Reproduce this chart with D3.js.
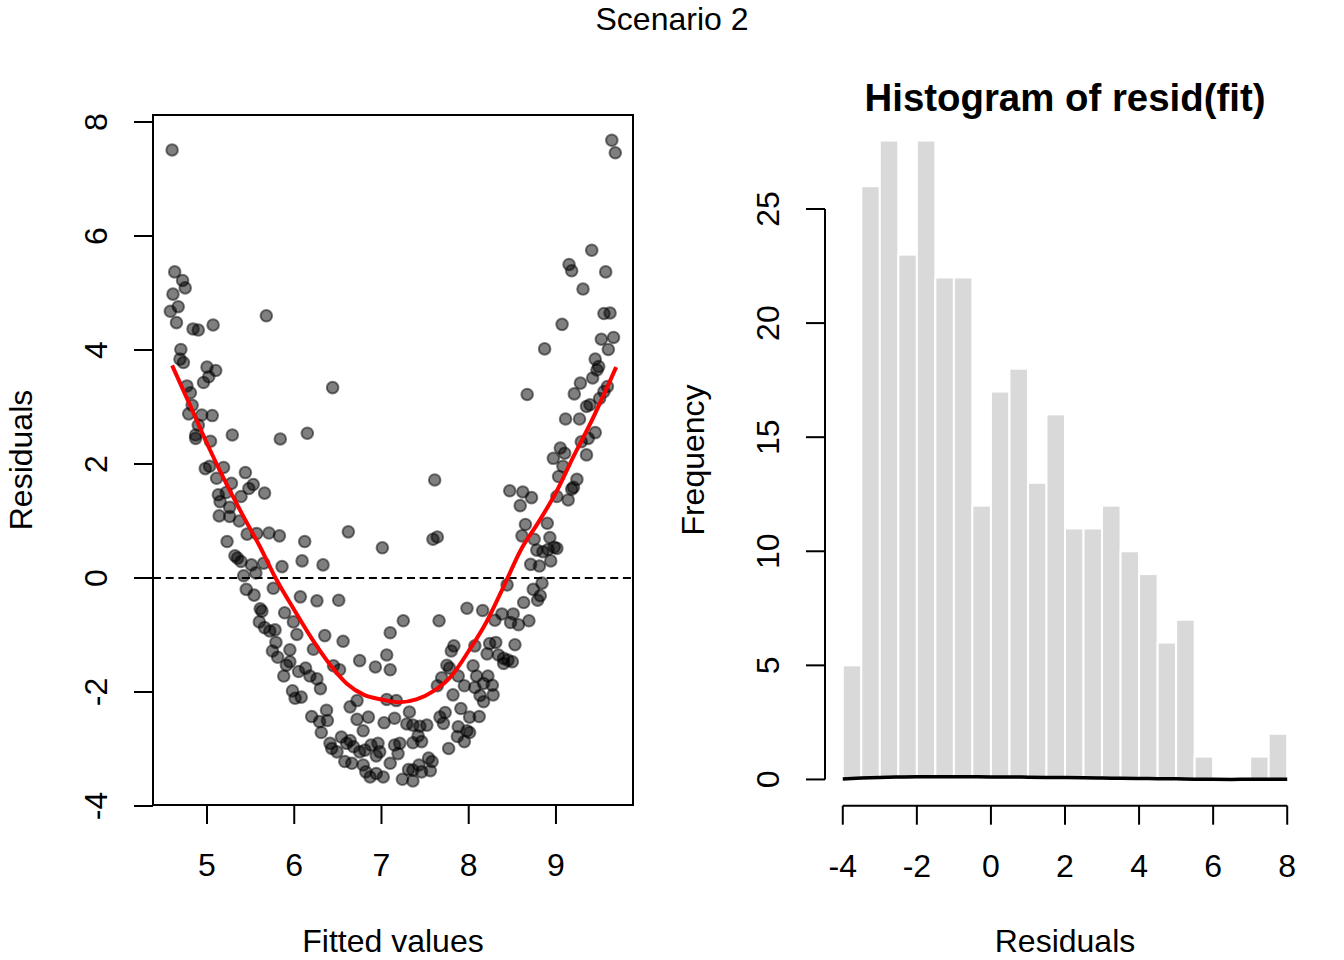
<!DOCTYPE html>
<html>
<head>
<meta charset="utf-8">
<script src="https://cdn.jsdelivr.net/npm/d3@7"></script>
<style>
  body { margin: 0; background: #fff; }
  svg { display: block; font-family: "Liberation Sans", Arial, sans-serif; }
</style>
</head>
<body>
<svg id="chart" width="1344" height="960"></svg>
<script>
// scatter: fitted values and residuals, paired by index
const fittedVals = [
  4.60,4.63,4.72,4.75,4.61,4.67,4.58,4.65,4.84,4.90,5.07,5.68,4.70,4.69,4.73,5.00,5.10,5.02,4.96,6.44,
  4.77,4.81,4.83,4.79,4.94,5.06,4.90,4.87,4.87,5.29,5.84,6.15,5.04,
  4.98,5.03,5.19,5.44,5.11,5.28,5.53,5.48,5.66,5.22,5.13,5.39,5.15,5.26,5.14,5.26,5.37,5.46,5.57,5.71,
  5.83,6.62,7.01,6.12,5.23,5.32,5.35,5.39,5.51,5.65,5.86,6.09,6.33,5.56,5.42,5.45,5.54,5.76,6.07,6.26,
  6.51,5.61,5.63,5.89,5.99,5.60,5.66,5.72,5.78,6.03,6.35,6.56,5.79,5.75,5.95,5.81,6.22,5.95,5.91,6.05,
  6.13,6.18,6.26,5.88,6.30,6.45,6.52,6.75,6.93,7.10,7.06,7.10,5.98,6.01,6.08,6.20,6.37,6.29,6.38,6.31,
  6.64,6.72,6.72,6.85,6.79,7.03,6.41,6.43,6.49,6.54,6.60,6.64,6.68,6.58,6.66,6.75,6.81,6.88,6.96,6.98,
  6.94,6.79,6.82,6.87,6.94,7.02,7.10,
  7.61,7.59,7.64,8.47,8.62,8.72,8.59,8.65,8.90,8.61,8.75,8.93,8.78,8.85,8.91,8.98,9.01,8.94,8.71,8.81,
  8.44,8.84,8.74,8.82,8.79,8.63,7.98,8.16,8.38,8.30,8.51,8.69,8.48,8.57,7.25,7.66,7.83,7.80,8.07,8.24,
  8.31,8.21,8.34,8.40,8.45,8.50,8.53,8.40,7.75,7.78,7.69,7.88,8.05,8.09,8.22,8.27,8.17,7.95,8.07,7.64,
  7.82,8.13,8.28,8.17,7.06,7.17,7.32,7.73,7.67,7.71,7.91,8.01,8.12,7.88,7.98,8.01,7.87,7.95,7.77,7.15,
  7.29,7.36,7.44,7.52,7.42,7.46,7.36,7.21,7.15,7.19,7.31,7.36,7.43,7.54,7.58,7.56,7.46,7.24,7.36,
  9.64,9.68,9.41,9.15,9.18,9.57,9.31,9.55,9.62,9.07,9.52,9.66,9.60,8.87,9.45,9.49,9.47,9.42,9.28,9.21,
  8.67,9.59,9.55,9.50,9.35,9.39,9.11,9.27,9.45,9.37,9.29,9.05,9.10,8.97,9.35,9.08,9.03,9.24,9.20,9.18,
  9.14,9.01
];
const residVals = [
  7.51,5.37,5.22,5.09,4.98,4.76,4.68,4.48,4.37,4.35,4.44,4.60,4.01,3.84,3.78,3.70,3.64,3.53,3.43,3.34,
  3.37,3.25,3.03,2.88,2.86,2.85,2.68,2.51,2.45,2.51,2.44,2.54,2.40,
  1.92,1.96,1.94,1.85,1.75,1.66,1.64,1.57,1.49,1.50,1.46,1.43,1.34,1.24,1.09,1.08,1.00,0.77,0.78,0.79,
  0.74,0.81,0.53,0.64,0.64,0.39,0.35,0.29,0.23,0.26,0.20,0.30,0.23,0.09,0.04,-0.20,-0.30,-0.18,-0.33,-0.40,
  -0.39,-0.54,-0.58,-0.61,-0.77,-0.77,-0.87,-0.93,-0.91,-0.99,-1.01,-1.11,-1.13,-1.28,-1.26,-1.39,-1.25,-1.47,-1.53,-1.64,
  -1.58,-1.72,-1.77,-1.72,-1.94,-1.54,-1.61,-1.45,-1.56,-0.96,-1.35,-1.61,-1.98,-2.11,-2.09,-2.43,-2.32,-2.52,-2.50,-2.71,
  -2.26,-2.15,-2.48,-2.44,-2.68,-2.54,-2.90,-2.99,-3.05,-2.79,-2.90,-2.85,-2.96,-3.22,-3.25,-3.05,-3.02,-2.93,-2.90,-3.05,
  -3.12,-3.28,-3.40,-3.49,-3.43,-3.49,-3.25,
  1.72,0.68,0.72,1.53,1.51,1.41,1.27,0.94,0.96,0.74,0.68,0.71,0.49,0.46,0.50,0.54,0.52,0.30,0.24,0.21,
  -0.12,-0.09,-0.20,-0.31,-0.39,-0.43,-0.53,-0.57,-0.63,-0.74,-0.63,-0.75,-0.78,-0.82,-0.75,-0.75,-1.19,-1.28,-1.19,-1.15,
  -1.13,-1.33,-1.35,-1.41,-1.44,-1.47,-1.17,-1.50,-1.53,-1.58,-1.75,-1.72,-1.54,-1.72,-1.72,-1.88,-1.85,-1.89,-1.92,-1.89,
  -2.05,-2.06,-2.05,-2.17,-2.13,-2.15,-2.35,-2.36,-2.44,-2.55,-2.29,-2.44,-2.43,-2.61,-2.68,-2.71,-2.78,-2.87,-2.99,-2.46,
  -2.56,-2.58,-2.60,-2.58,-2.77,-2.87,-2.89,-2.90,-2.93,-3.08,-3.36,-3.37,-3.28,-3.16,-3.22,-3.38,-3.40,-3.53,-3.56,
  7.68,7.46,5.75,5.50,5.39,5.37,5.07,4.64,4.65,4.45,4.19,4.22,4.01,4.02,3.84,3.71,3.65,3.51,3.42,3.23,
  3.22,3.36,3.27,3.15,3.01,3.04,2.79,2.79,2.55,2.45,2.39,2.28,2.19,2.10,2.16,1.96,1.78,1.73,1.59,1.56,
  1.37,1.43
];

// smoother through the residuals (red line)
const smoothX = [4.60,4.80,5.00,5.20,5.40,5.60,5.80,6.00,6.20,6.40,6.60,6.80,7.00,7.20,7.40,7.60,7.80,8.00,8.20,8.40,8.60,8.80,9.00,9.20,9.40,9.69];
const smoothY = [3.73,3.05,2.36,1.72,1.13,0.57,-0.04,-0.56,-1.06,-1.50,-1.85,-2.05,-2.13,-2.18,-2.13,-1.98,-1.72,-1.28,-0.78,-0.15,0.50,0.98,1.50,2.13,2.73,3.70];

// histogram of residuals
const histBreaks = [-4,-3.5,-3,-2.5,-2,-1.5,-1,-0.5,0,0.5,1,1.5,2,2.5,3,3.5,4,4.5,5,5.5,6,6.5,7,7.5,8];
const histCounts = [5,26,28,23,28,22,22,12,17,18,13,16,11,11,12,10,9,6,7,1,0,0,1,2];

// density line drawn on the frequency scale
const densX = [-4,-3.5,-3,-2.5,-2,-1.5,-1,-0.5,0,0.5,1,1.5,2,2.5,3,3.5,4,4.5,5,5.5,6,6.5,7,7.5,8];
const densY = [0.02,0.06,0.09,0.11,0.12,0.12,0.12,0.115,0.11,0.11,0.10,0.09,0.08,0.07,0.06,0.055,0.045,0.035,0.025,0.012,0.004,0.003,0.005,0.006,0.004];

const scatterXTicks = [5,6,7,8,9];
const scatterYTicks = [-4,-2,0,2,4,6,8];
const histXTicks = [-4,-2,0,2,4,6,8];
const histYTicks = [0,5,10,15,20,25];

const fontPx = 32;
const tickLen = 19;
const lineW = 2;

/* R style axis: line spans first to last tick, labels can be turned */
function drawAxis(g, scale, ticks, side, labelOffset) {
    var ax = g.append("g").attr("class", "axis");
    var first = scale(ticks[0]), last = scale(ticks[ticks.length - 1]);
    if (side === "bottom") {
        ax.append("line").attr("x1", first).attr("x2", last).attr("y1", 0).attr("y2", 0);
        ax.selectAll("line.tick").data(ticks).enter().append("line")
            .attr("class", "tick")
            .attr("x1", (d) => scale(d)).attr("x2", (d) => scale(d))
            .attr("y1", 0).attr("y2", tickLen);
        ax.selectAll("text").data(ticks).enter().append("text")
            .attr("x", (d) => scale(d))
            .attr("y", labelOffset)
            .attr("text-anchor", "middle")
            .text((d) => d);
    } else {
        ax.append("line").attr("y1", first).attr("y2", last).attr("x1", 0).attr("x2", 0);
        ax.selectAll("line.tick").data(ticks).enter().append("line")
            .attr("class", "tick")
            .attr("y1", (d) => scale(d)).attr("y2", (d) => scale(d))
            .attr("x1", 0).attr("x2", -tickLen);
        ax.selectAll("text").data(ticks).enter().append("text")
            .attr("transform", (d) => "translate(" + (-labelOffset) + "," + scale(d) + ") rotate(-90)")
            .attr("text-anchor", "middle")
            .text((d) => d);
    }
    ax.selectAll("line").attr("stroke", "#000").attr("stroke-width", lineW);
    ax.selectAll("text").attr("font-size", fontPx).attr("fill", "#000");
    return ax;
}

function drawScatter(svg) {
    var x = d3.scaleLinear().domain([4.381, 9.883]).range([153, 633]);
    var y = d3.scaleLinear().domain([-3.982, 8.123]).range([805, 115]);

    svg.append("clipPath").attr("id", "clipL")
        .append("rect").attr("x", 153).attr("y", 115).attr("width", 480).attr("height", 690);

    var plot = svg.append("g").attr("clip-path", "url(#clipL)");

    var pts = d3.range(fittedVals.length).map((i) => [fittedVals[i], residVals[i]]);
    plot.selectAll("circle").data(pts).enter().append("circle")
        .attr("cx", (d) => x(d[0]))
        .attr("cy", (d) => y(d[1]))
        .attr("r", 5.8)
        .attr("fill", "rgba(0,0,0,0.5)")
        .attr("stroke", "rgba(0,0,0,0.5)")
        .attr("stroke-width", 2);

    plot.append("line")
        .attr("x1", 153).attr("x2", 633)
        .attr("y1", y(0)).attr("y2", y(0))
        .attr("stroke", "#000").attr("stroke-width", 2)
        .attr("stroke-dasharray", "8,4.7");

    var line = d3.line().x((d) => x(d[0])).y((d) => y(d[1])).curve(d3.curveMonotoneX);
    plot.append("path")
        .datum(smoothX.map((v, i) => [v, smoothY[i]]))
        .attr("d", line)
        .attr("fill", "none")
        .attr("stroke", "#FF0000")
        .attr("stroke-width", 4);

    svg.append("rect")
        .attr("x", 153).attr("y", 115).attr("width", 480).attr("height", 690)
        .attr("fill", "none").attr("stroke", "#000").attr("stroke-width", lineW);

    drawAxis(svg.append("g").attr("transform", "translate(0,805)"), x, scatterXTicks, "bottom", 71);
    drawAxis(svg.append("g").attr("transform", "translate(153,0)"), y, scatterYTicks, "left", 45.7);

    svg.append("text")
        .attr("x", 393).attr("y", 952)
        .attr("text-anchor", "middle").attr("font-size", fontPx)
        .text("Fitted values");
    svg.append("text")
        .attr("transform", "translate(31.7,460) rotate(-90)")
        .attr("text-anchor", "middle").attr("font-size", fontPx)
        .text("Residuals");
}

function drawHist(svg) {
    var x = d3.scaleLinear().domain([-4.48, 8.48]).range([825, 1305]);
    var y = d3.scaleLinear().domain([-1.12, 29.12]).range([805, 115]);

    var bins = histCounts.map((c, i) => ({ x0: histBreaks[i], x1: histBreaks[i + 1], n: c }))
        .filter((b) => b.n > 0);

    svg.append("g").selectAll("rect").data(bins).enter().append("rect")
        .attr("x", (d) => x(d.x0))
        .attr("y", (d) => y(d.n))
        .attr("width", (d) => x(d.x1) - x(d.x0))
        .attr("height", (d) => y(0) - y(d.n))
        .attr("fill", "#D9D9D9")
        .attr("stroke", "#FFFFFF")
        .attr("stroke-width", 2);

    var line = d3.line().x((d) => x(d[0])).y((d) => y(d[1])).curve(d3.curveMonotoneX);
    svg.append("path")
        .datum(densX.map((v, i) => [v, densY[i]]))
        .attr("d", line)
        .attr("fill", "none")
        .attr("stroke", "#000")
        .attr("stroke-width", 3.5);

    drawAxis(svg.append("g").attr("transform", "translate(0,805.7)"), x, histXTicks, "bottom", 71);
    drawAxis(svg.append("g").attr("transform", "translate(825,0)"), y, histYTicks, "left", 46.3);

    svg.append("text")
        .attr("x", 1065).attr("y", 111)
        .attr("text-anchor", "middle").attr("font-size", 38.4).attr("font-weight", "bold")
        .text("Histogram of resid(fit)");
    svg.append("text")
        .attr("x", 1065).attr("y", 952)
        .attr("text-anchor", "middle").attr("font-size", fontPx)
        .text("Residuals");
    svg.append("text")
        .attr("transform", "translate(704,460) rotate(-90)")
        .attr("text-anchor", "middle").attr("font-size", fontPx)
        .text("Frequency");
}

function main() {
    var svg = d3.select("#chart");
    svg.append("rect").attr("width", 1344).attr("height", 960).attr("fill", "#fff");
    svg.append("text")
        .attr("x", 672).attr("y", 30)
        .attr("text-anchor", "middle").attr("font-size", fontPx)
        .text("Scenario 2");
    drawScatter(svg);
    drawHist(svg);
}

main();
</script>
</body>
</html>
